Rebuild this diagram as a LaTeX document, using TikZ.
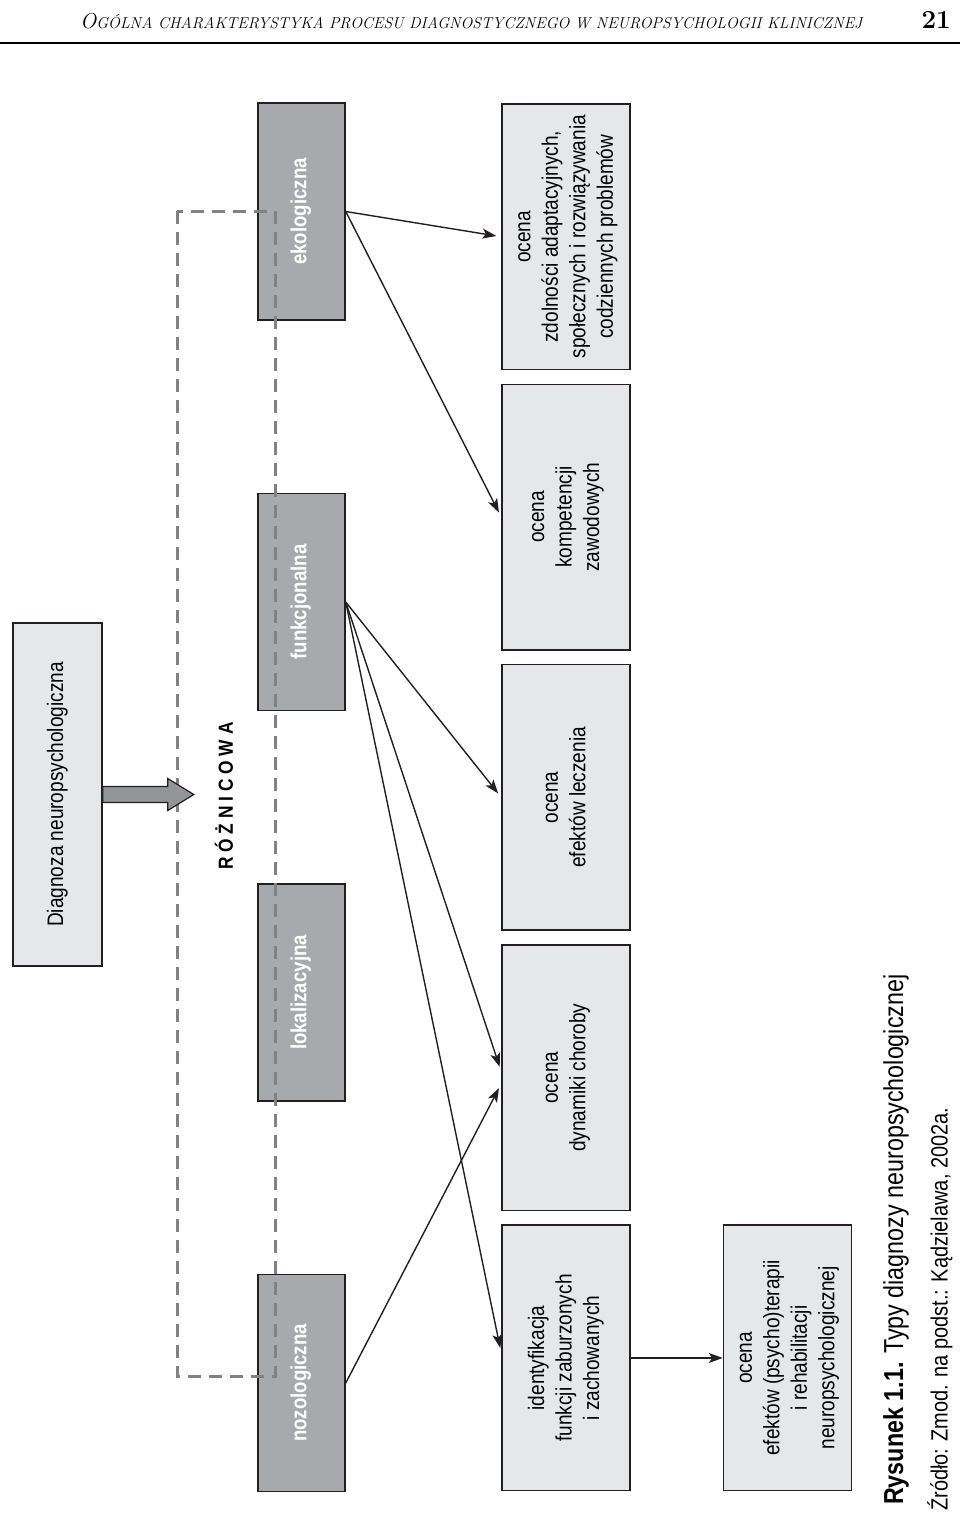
\documentclass[tikz,border=0pt]{standalone}
\usepackage{fontspec}
\setsansfont[FakeStretch=0.85]{Liberation Sans}
\usepackage{graphicx}
\definecolor{boxlight}{RGB}{230,231,232}
\definecolor{boxdark}{RGB}{167,169,172}
\definecolor{dashgray}{RGB}{128,130,133}
\definecolor{linecol}{RGB}{35,31,32}
\usetikzlibrary{arrows.meta, positioning, calc}
\newcommand{\vtext}[1]{\rotatebox{90}{\begin{tabular}{@{}c@{}}#1\end{tabular}}}

\begin{document}
\begin{tikzpicture}[x=1pt, y=-1pt,
    kind/.style={draw=linecol, line width=1.5pt, fill=boxdark, text=white, inner sep=0pt,
      minimum width=87pt, minimum height=217pt, font=\sffamily\bfseries\fontsize{21.9}{24}\selectfont},
    ocena/.style={draw=linecol, line width=1.5pt, fill=boxlight, inner sep=0pt,
      minimum width=128pt, minimum height=265.5pt, font=\sffamily\fontsize{22.4}{27.5}\selectfont},
    link/.style={draw=linecol, line width=1.4pt, -{Stealth[length=14pt, width=10pt, inset=3.5pt]}, shorten >=5pt}]
  \useasboundingbox (0,0) rectangle (960,1516);

  % page header
  \node[anchor=base west, inner sep=0pt] (head) at (80,28)
    {\resizebox{782pt}{!}{\itshape\fontsize{26}{26}\selectfont O\fontsize{19}{19}\selectfont GÓLNA CHARAKTERYSTYKA PROCESU DIAGNOSTYCZNEGO W NEUROPSYCHOLOGII KLINICZNEJ}};
  \node[anchor=base east, inner sep=0pt] (page) at (951,28) {\fontsize{26}{26}\selectfont\bfseries 21};
  \draw[line width=2.5pt] (0,43) -- (960,43);

  % diagram
  \node[ocena, minimum width=89pt, minimum height=343pt] (diag) at (57.5,794.5) {\vtext{Diagnoza neuropsychologiczna}};
  \node[font=\sffamily\bfseries\fontsize{20.4}{20.4}\selectfont] (rozn) at (224,796) {\rotatebox{90}{R Ó Ż N I C O W A}};

  \node[kind] (eko) at (301.5,211.5) {\vtext{ekologiczna}};
  \node[kind, below=172pt of eko] (funk) {\vtext{funkcjonalna}};
  \node[kind, below=172pt of funk] (lok) {\vtext{lokalizacyjna}};
  \node[kind, below=172pt of lok] (nozo) {\vtext{nozologiczna}};

  \node[ocena] (zdol) at (566,236.75) {\vtext{ocena\\zdolności adaptacyjnych,\\społecznych i rozwiązywania\\codziennych problemów}};
  \node[ocena, below=13.3pt of zdol] (komp) {\vtext{ocena\\kompetencji\\zawodowych}};
  \node[ocena, below=13.3pt of komp] (efle) {\vtext{ocena\\efektów leczenia}};
  \node[ocena, below=13.3pt of efle] (dyna) {\vtext{ocena\\dynamiki choroby}};
  \node[ocena, below=13.3pt of dyna] (ident) {\vtext{identyfikacja\\funkcji zaburzonych\\i zachowanych}};
  \node[ocena, right=92pt of ident] (efpsy) {\vtext{ocena\\efektów (psycho)terapii\\i rehabilitacji\\neuropsychologicznej}};

  \draw[dashgray, line width=3pt, dash pattern=on 13pt off 8pt] (177,211) rectangle (275,1376);

  \draw[draw=linecol, line width=1.2pt, fill=boxdark!88!black] (diag.east) ++(0,-8) -- ++(65,0) -- ++(0,-8)
    -- ++(26,16) -- ++(-26,16) -- ++(0,-8) -- ++(-65,0) -- cycle;

  \draw[link] (eko.east) -- (zdol.west);
  \draw[link] (eko.east) -- (komp.west);
  \draw[link] (funk.east) -- (efle.west);
  \draw[link] (funk.east) -- ([yshift=6pt]dyna.west);
  \draw[link] (funk.east) -- ([yshift=5pt]ident.west);
  \draw[link] (nozo.east) -- ([yshift=-6pt]dyna.west);
  \draw[link, shorten >=0pt] (ident.east) -- (efpsy.west);

  % caption
  \node[anchor=south, inner sep=0pt] (cap) at (896,1505)
    {\rotatebox{90}{\sffamily\fontsize{27.4}{27.4}\selectfont\textbf{Rysunek 1.1.} Typy diagnozy neuropsychologicznej}};
  \node[anchor=south, inner sep=0pt] (src) at (940,1511)
    {\rotatebox{90}{\sffamily\fontsize{23.5}{23.5}\selectfont Źródło: Zmod. na podst.: Kądzielawa, 2002a.}};
\end{tikzpicture}
\end{document}
